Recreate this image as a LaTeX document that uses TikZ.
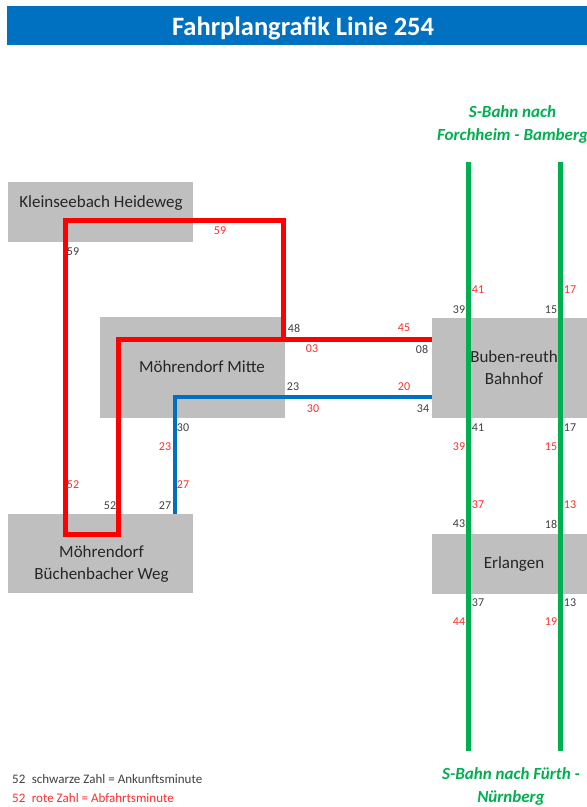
\documentclass[tikz,border=0pt]{standalone}
\usepackage{fontspec}
\setmainfont{Carlito}
\usepackage{tikz}
\definecolor{titleblue}{RGB}{0,112,192}
\definecolor{stopgrey}{RGB}{191,191,191}
\definecolor{sbgreen}{RGB}{0,176,80}
\definecolor{arrgrey}{RGB}{64,64,64}
\definecolor{depred}{RGB}{255,45,45}
\tikzset{
  stop/.style={fill=stopgrey, inner sep=0pt},
  stopname/.style={inner sep=0pt, align=center, text=black!85, font=\fontsize{17pt}{22pt}\selectfont},
  arr/.style={inner sep=0pt, text=arrgrey, font=\fontsize{12pt}{14pt}\selectfont},
  dep/.style={inner sep=0pt, text=depred, font=\fontsize{12pt}{14pt}\selectfont},
  keytext/.style={anchor=west, font=\fontsize{13pt}{15pt}\selectfont},
  sbahn/.style={line width=5pt, sbgreen},
  sbtext/.style={inner sep=0pt, align=center, text=sbgreen, font=\bfseries\itshape\fontsize{17pt}{23pt}\selectfont},
  redline/.style={line width=5pt, red, line join=miter},
  blueline/.style={line width=4pt, titleblue, line join=miter}
}
\begin{document}
\begin{tikzpicture}[x=1pt, y=-1pt]
      \useasboundingbox (0,0) rectangle (587,807);
      \fill[white] (0,0) rectangle (587,807);
      \node[fill=titleblue, minimum width=580pt, minimum height=39pt, inner sep=0pt] (title) at (297,25.5) {};
      \node[inner sep=0pt, text=white, font=\bfseries\fontsize{26.5pt}{30pt}\selectfont] (titletext) at (303,28) {Fahrplangrafik Linie 254};
      % stops
      \node[stop, minimum width=185pt, minimum height=60pt] (kh) at (100.5,212) {};
      \node[stop, minimum width=185pt, minimum height=101pt] (mm) at (192.5,367.5) {};
      \node[stop, minimum width=185pt, minimum height=79pt] (bw) at (100.5,553.5) {};
      \node[stop, minimum width=155pt, minimum height=100pt] (bb) at (509.5,368) {};
      \node[stop, minimum width=155pt, minimum height=60pt] (er) at (509.5,564) {};
      \node[stopname] (khname) at (101,203) {Kleinseebach Heideweg};
      \node[stopname] (mmname) at (202,367) {Möhrendorf Mitte};
      \node[stopname] (bwname) at (101.5,564) {Möhrendorf\\Büchenbacher Weg};
      \node[stopname] (bbname) at (514,367.5) {Buben-reuth\\Bahnhof};
      \node[stopname] (ername) at (514,564) {Erlangen};
      % S-Bahn
      \node[sbtext] (north) at (512.5,124) {S-Bahn nach\\Forchheim - Bamberg};
      \node[sbtext] (south) at (511,786) {S-Bahn nach Fürth -\\Nürnberg};
      \coordinate (s1a) at (468,162);
      \coordinate (s1b) at (468,751);
      \coordinate (s2a) at (560,162);
      \coordinate (s2b) at (560,751);
      \draw[sbahn] (s1a) -- (s1b);
      \draw[sbahn] (s2a) -- (s2b);
      % bus 254
      \coordinate (r1) at (118.5,339);
      \coordinate (r2) at (118.5,534.5);
      \coordinate (r3) at (65.5,534.5);
      \coordinate (r4) at (65.5,220.5);
      \coordinate (r5) at (283.5,220.5);
      \coordinate (r6) at (283.5,339);
      \coordinate (b1) at (174.5,397);
      \draw[redline] (bb.west |- r1) -- (r1) -- (r2) -- (r3) -- (r4) -- (r5) -- (r6);
      \draw[blueline] (bb.west |- b1) -- (b1) -- (b1 |- bw.north);
      % minutes
      \node[arr] (a1) at (73,252) {59};
      \node[dep] (d1) at (220,231) {59};
      \node[arr] (a2) at (294,328) {48};
      \node[dep] (d2) at (404,328) {45};
      \node[dep] (d3) at (312,349) {03};
      \node[arr] (a3) at (422,349) {08};
      \node[arr] (a4) at (293,387) {23};
      \node[dep] (d4) at (404,387) {20};
      \node[dep] (d5) at (313,409) {30};
      \node[arr] (a5) at (423,409) {34};
      \node[arr] (a6) at (183,428) {30};
      \node[dep] (d6) at (165,447) {23};
      \node[dep] (d7) at (183,485) {27};
      \node[dep] (d8) at (73,485) {52};
      \node[arr] (a7) at (110,506) {52};
      \node[arr] (a8) at (165,506) {27};
      \node[dep] (d9) at (478,290) {41};
      \node[dep] (d10) at (570,290) {17};
      \node[arr] (a9) at (459,310) {39};
      \node[arr] (a10) at (551,310) {15};
      \node[arr] (a11) at (478,428) {41};
      \node[arr] (a12) at (570,428) {17};
      \node[dep] (d11) at (459,447) {39};
      \node[dep] (d12) at (551,447) {15};
      \node[dep] (d13) at (478,505) {37};
      \node[dep] (d14) at (570,505) {13};
      \node[arr] (a13) at (459,524) {43};
      \node[arr] (a14) at (551,524) {18};
      \node[arr] (a15) at (478,603) {37};
      \node[arr] (a16) at (570,603) {13};
      \node[dep] (d15) at (459,622) {44};
      \node[dep] (d16) at (551,622) {19};
      % legend
      \node[arr, keytext] (key1) at (12,779) {52\enspace schwarze Zahl = Ankunftsminute};
      \node[dep, keytext] (key2) at (12,798) {52\enspace rote Zahl = Abfahrtsminute};
    \end{tikzpicture}
\end{document}
